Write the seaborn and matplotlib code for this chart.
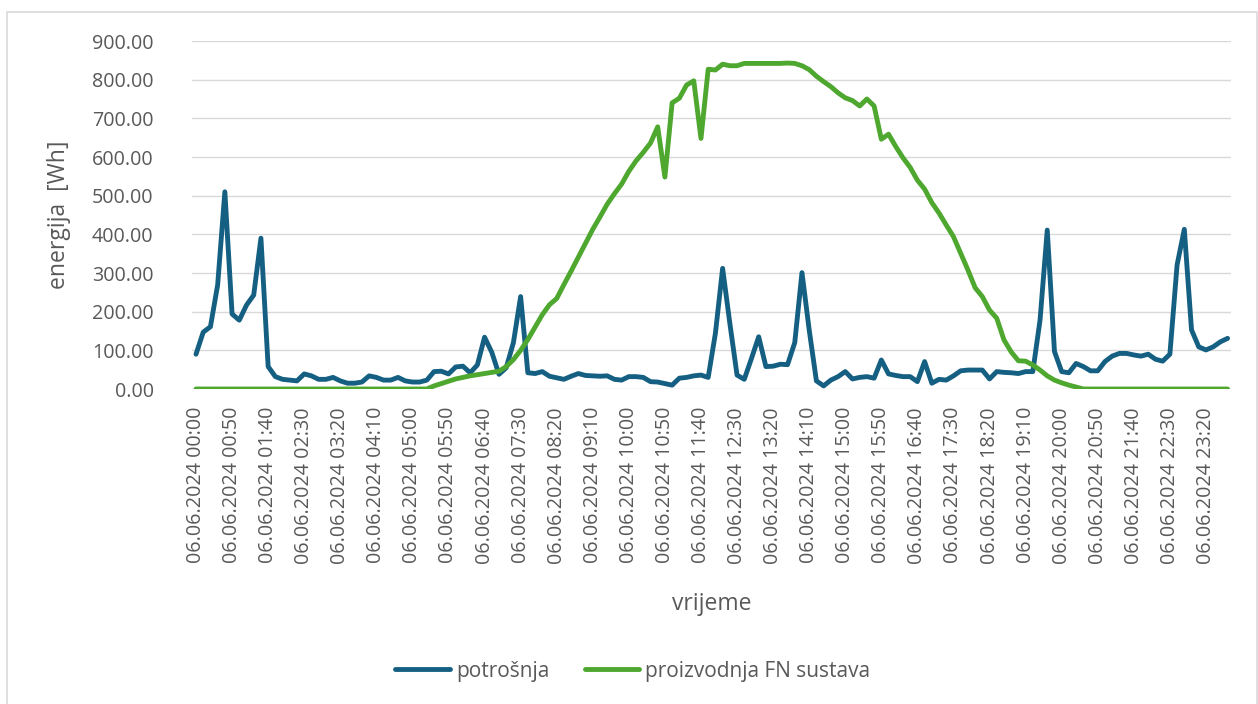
import numpy as np
import matplotlib.pyplot as plt
import matplotlib.patches as patches
import seaborn as sns
import pandas as pd

# 10-minute steps over the day, 06.06.2024
vrijeme = [f"06.06.2024 {m // 60:02d}:{m % 60:02d}" for m in range(0, 1440, 10)]

# potrosnja [Wh]
potrosnja = [90, 147, 161, 269, 510, 194, 178, 217, 243, 390,
             58, 32, 25, 23, 21, 39, 34, 25, 25, 30,
             21, 15, 15, 18, 34, 30, 23, 23, 30, 21,
             18, 18, 23, 45, 46, 39, 57, 59, 42, 62,
             134, 95, 38, 55, 120, 239, 42, 40, 45, 33,
             29, 25, 33, 40, 35, 34, 33, 34, 25, 23,
             32, 32, 30, 19, 18, 14, 10, 28, 30, 34,
             36, 30, 144, 312, 170, 36, 25, 79, 135, 58,
             59, 64, 63, 120, 301, 153, 21, 8, 23, 32,
             45, 26, 30, 32, 28, 75, 39, 35, 32, 32,
             19, 71, 15, 25, 23, 34, 47, 49, 49, 49,
             26, 45, 43, 42, 40, 45, 45, 178, 411, 97,
             45, 42, 66, 58, 47, 47, 71, 85, 92, 92,
             88, 85, 90, 77, 72, 90, 321, 413, 153, 109,
             101, 109, 122, 131]

# proizvodnja FN sustava [Wh]
proizvodnja = [0] * 33 + [
    8, 14, 20, 26, 30, 34, 37, 40, 43, 46,
    58, 76, 100, 128, 160, 192, 218, 234, 270, 305,
    341, 377, 413, 445, 478, 505, 530, 563, 590, 612,
    636, 678, 548, 740, 752, 786, 797, 648, 827, 825,
    840, 836, 836, 842, 842, 842, 842, 842, 842, 843,
    842, 836, 826, 809, 795, 782, 766, 753, 746, 732,
    750, 732, 646, 659, 627, 598, 573, 540, 517, 482,
    455, 424, 394, 351, 308, 262, 239, 204, 183, 127,
    96, 73, 72, 62, 49, 34, 23, 16, 10, 5] + [0] * 21

serije = ["potrošnja", "proizvodnja FN sustava"]
boje = ["#156082", "#4EA72E"]

n = len(vrijeme)
df = pd.DataFrame({
    "x": list(range(n)) * 2,
    "energija": potrosnja + proizvodnja,
    "serija": [serije[0]] * n + [serije[1]] * n,
})

sns.set_theme(style="white")
plt.rcParams["font.family"] = ["Open Sans", "DejaVu Sans"]
siva = "#595959"

W, H = 1258, 704
fig = plt.figure(figsize=(W / 100, H / 100), dpi=100)
ax = fig.add_axes([192.4 / W, 1 - 389 / H, 1038.8 / W, 348 / H])

sns.lineplot(data=df, x="x", y="energija", hue="serija", palette=boje,
             hue_order=serije, linewidth=3.5, ax=ax, legend=False,
             solid_capstyle="round", solid_joinstyle="round")

ax.set_xlim(-0.5, n - 0.5)
ax.set_ylim(0, 900)
ax.set_yticks(range(0, 901, 100))
ax.set_yticklabels([f"{v:.2f}" for v in range(0, 901, 100)])
ax.set_xticks(range(0, n, 5))
ax.set_xticklabels(vrijeme[::5], rotation=90)
ax.yaxis.grid(True, color="#d9d9d9", linewidth=1.0)
ax.xaxis.grid(False)
ax.set_axisbelow(True)
for s in ax.spines.values():
    s.set_visible(False)
ax.tick_params(axis="y", length=0, pad=28, labelsize=14.2, labelcolor=siva)
ax.tick_params(axis="x", length=0, pad=13, labelsize=14.2, labelcolor=siva)

ax.set_xlabel("vrijeme", fontsize=16.5, color=siva, va="center")
ax.set_ylabel("energija  [Wh]", fontsize=16.5, color=siva, va="center")
ax.xaxis.set_label_coords(0.5, -0.618)
ax.yaxis.set_label_coords(-0.128, 0.5)

# legend at the bottom of the chart area
handles = [plt.Line2D([], [], color=c, linewidth=3.5, solid_capstyle="round") for c in boje]
fig.legend(handles, serije, loc="center", bbox_to_anchor=(0.503, 1 - 671 / H),
           ncol=2, frameon=False, fontsize=15, handlelength=2.6,
           handletextpad=0.3, columnspacing=1.7, labelcolor=siva)

# chart area border
fig.patches.append(patches.Rectangle((6.7 / W, -0.02), (1257.3 - 6.7) / W, 1.02 - 12.3 / H,
                                     transform=fig.transFigure, fill=False,
                                     edgecolor="#d9d9d9", linewidth=1.2))

fig.savefig("out.png", dpi=100)
